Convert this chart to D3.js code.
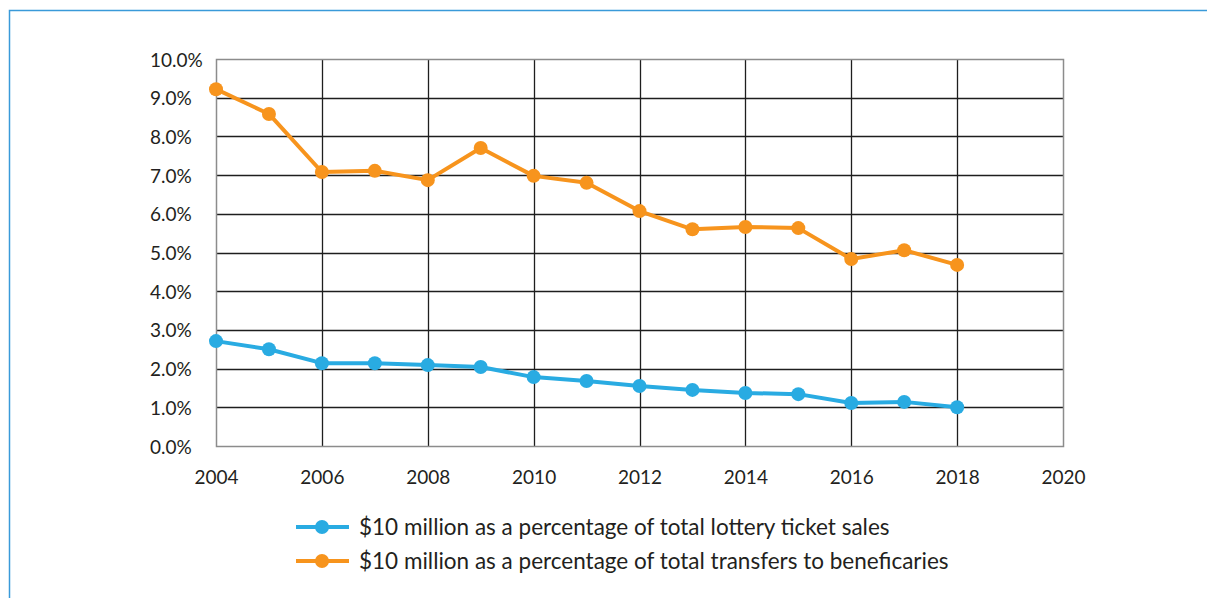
<!DOCTYPE html>
<html>
<head>
<meta charset="utf-8">
<script src="https://cdn.jsdelivr.net/npm/d3@7"></script>
<style>
  body { margin: 0; background: #fff; }
  svg { display: block; font-family: Lato, "Noto Sans", sans-serif; }
</style>
</head>
<body>
<svg id="chart" width="1207" height="598"></svg>
<script>
const years = [2004, 2005, 2006, 2007, 2008, 2009, 2010, 2011, 2012, 2013, 2014, 2015, 2016, 2017, 2018];
const ticketSales = [2.71, 2.50, 2.14, 2.14, 2.09, 2.04, 1.78, 1.68, 1.55, 1.45, 1.37, 1.34, 1.11, 1.14, 1.00];
const transfers = [9.22, 8.58, 7.08, 7.11, 6.87, 7.70, 6.98, 6.80, 6.07, 5.60, 5.66, 5.63, 4.83, 5.06, 4.68];
const xTicks = [2004, 2006, 2008, 2010, 2012, 2014, 2016, 2018, 2020];
const yTicks = [0, 1, 2, 3, 4, 5, 6, 7, 8, 9, 10];
const seriesNames = [
  '$10 million as a percentage of total lottery ticket sales',
  '$10 million as a percentage of total transfers to beneficaries'
];
const colors = ['#29abe2', '#f7941d'];

const svg = d3.select('#chart');

// outer frame (left + top edges visible)
svg.append('path')
  .attr('d', 'M9.5,598 L9.5,10.5 L1207,10.5')
  .attr('fill', 'none')
  .attr('stroke', '#3a9ad9')
  .attr('stroke-width', 1.5);

const margin = { top: 59, left: 216, right: 1063, bottom: 446 };

const x = d3.scaleLinear().domain([2004, 2020]).range([margin.left, margin.right]);
const y = d3.scaleLinear().domain([0, 10]).range([margin.bottom, margin.top]);

// gridlines
const grid = svg.append('g');
grid.selectAll('.hg')
  .data(yTicks.filter(d => d > 0 && d < 10))
  .join('line')
  .attr('x1', margin.left).attr('x2', margin.right)
  .attr('y1', d => Math.round(y(d)) + 0.5).attr('y2', d => Math.round(y(d)) + 0.5)
  .attr('stroke', '#1e1e1e').attr('stroke-width', 1.3);
grid.selectAll('.vg')
  .data(xTicks.filter(d => d > 2004 && d < 2020))
  .join('line')
  .attr('y1', margin.top).attr('y2', margin.bottom)
  .attr('x1', d => Math.round(x(d)) + 0.5).attr('x2', d => Math.round(x(d)) + 0.5)
  .attr('stroke', '#1e1e1e').attr('stroke-width', 1.3);

// plot border
svg.append('rect')
  .attr('x', margin.left + 0.5).attr('y', margin.top + 0.5)
  .attr('width', margin.right - margin.left).attr('height', margin.bottom - margin.top)
  .attr('fill', 'none').attr('stroke', '#8c8c8c').attr('stroke-width', 1.5);

// y labels are left-aligned in the reference
const yAxis = d3.axisLeft(y).tickValues(yTicks).tickFormat(d => d.toFixed(1) + '%').tickSize(0);
svg.append('g')
  .attr('transform', `translate(${margin.left},1)`)
  .call(yAxis)
  .call(g => g.select('.domain').remove())
  .selectAll('text')
  .attr('x', 150 - margin.left)
  .attr('text-anchor', 'start')
  .attr('font-size', 19).attr('fill', '#231f20')
  .attr('font-family', 'Lato, "Noto Sans", sans-serif');

const xAxis = d3.axisBottom(x).tickValues(xTicks).tickFormat(d3.format('d')).tickSize(0).tickPadding(25);
svg.append('g')
  .attr('transform', `translate(0,${margin.bottom})`)
  .call(xAxis)
  .call(g => g.select('.domain').remove())
  .selectAll('text')
  .attr('font-size', 19).attr('fill', '#231f20')
  .attr('font-family', 'Lato, "Noto Sans", sans-serif');

// series
const line = d3.line().x((d, i) => x(years[i])).y(d => y(d));
[ticketSales, transfers].forEach((vals, k) => {
  const g = svg.append('g');
  g.append('path')
    .datum(vals)
    .attr('d', line)
    .attr('fill', 'none')
    .attr('stroke', colors[k])
    .attr('stroke-width', 4)
    .attr('stroke-linejoin', 'round');
  g.selectAll('circle')
    .data(vals)
    .join('circle')
    .attr('cx', (d, i) => x(years[i]))
    .attr('cy', d => y(d))
    .attr('r', 7)
    .attr('fill', colors[k]);
});

// legend
const legend = svg.append('g');
seriesNames.forEach((name, k) => {
  const ly = 527 + k * 34;
  legend.append('line')
    .attr('x1', 296).attr('x2', 349).attr('y1', ly).attr('y2', ly)
    .attr('stroke', colors[k]).attr('stroke-width', 4);
  legend.append('circle')
    .attr('cx', 322).attr('cy', ly).attr('r', 7).attr('fill', colors[k]);
  legend.append('text')
    .attr('x', 359).attr('y', ly)
    .attr('dy', '0.35em')
    .attr('font-size', 22.5)
    .attr('fill', '#231f20')
    .text(name);
});
</script>
</body>
</html>
